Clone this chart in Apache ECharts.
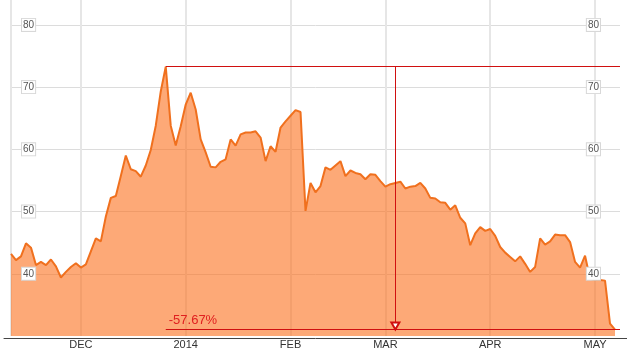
<!DOCTYPE html>
<html><head><meta charset="utf-8">
<script src="https://cdn.jsdelivr.net/npm/echarts@6/dist/echarts.min.js"></script>
<style>html,body{margin:0;padding:0;background:#fff}#c{width:627px;height:350px}</style>
</head><body><div id="c"></div>
<script>
// Trading days per month (category axis)
const novDays = [11,12,13,14,15,18,19,20,21,22,25,26,27,29];
const decDays = [2,3,4,5,6,9,10,11,12,13,16,17,18,19,20,23,24,26,27,30,31];
const janDays = [2,3,6,7,8,9,10,13,14,15,16,17,21,22,23,24,27,28,29,30,31];
const febDays = [3,4,5,6,7,10,11,12,13,14,18,19,20,21,24,25,26,27,28];
const marDays = [3,4,5,6,7,10,11,12,13,14,17,18,19,20,21,24,25,26,27,28,31];
const aprDays = [1,2,3,4,7,8,9,10,11,14,15,16,17,21,22,23,24,25,28,29,30];
const mayDays = [1,2,5,6,7];

// Closing values per month
const novValues = [43.2,42.2,42.8,44.9,44.2,41.4,41.9,41.4,42.3,41.2,39.4,40.3,41.1,41.7];
const decValues = [41.0,41.5,43.6,45.7,45.2,49.2,52.2,52.5,55.7,59.0,56.8,56.5,55.6,57.4,59.9,63.8,69.3,73.3,63.8,60.6,63.7];
const janValues = [67.2,69.1,66.4,61.6,59.5,57.2,57.1,58.0,58.4,61.6,60.6,62.4,62.7,62.7,62.9,61.9,58.1,60.5,59.6,63.5,64.5];
const febValues = [65.4,66.3,66.0,50.1,54.6,53.1,54.1,57.1,56.7,57.4,58.1,55.7,56.6,56.2,56.0,55.2,56.0,55.9,54.9];
const marValues = [54.0,54.4,54.6,54.8,53.7,54.0,54.1,54.6,53.7,52.2,52.1,51.5,51.4,50.3,51.0,49.0,48.1,44.6,46.5,47.5,46.9];
const aprValues = [47.2,46.1,44.3,43.4,42.7,42.0,42.8,41.6,40.3,41.1,45.7,44.7,45.2,46.3,46.2,46.2,45.1,41.9,41.0,42.9,39.2];
const mayValues = [39.0,39.0,38.9,32.0,31.03];

// Axis tick labels
const tickMonths = ['2013-12','2014-01','2014-02','2014-03','2014-04','2014-05'];
const tickLabels = ['DEC','2014','FEB','MAR','APR','MAY'];

const months = ['2013-11','2013-12','2014-01','2014-02','2014-03','2014-04','2014-05'];
const monthDays = [novDays,decDays,janDays,febDays,marDays,aprDays,mayDays];
const categories = [];
months.forEach((m,i)=>monthDays[i].forEach(d=>categories.push(m+'-'+String(d).padStart(2,'0'))));
categories.push(''); // one empty trailing slot to the right of the last point
const values = [].concat(novValues,decValues,janValues,febValues,marValues,aprValues,mayValues);

const X_END = categories.length - 1;
function isMonthStart(i){
  if (i === 0) return true;
  if (!categories[i] || !categories[i-1]) return false;
  return categories[i].slice(0,7) !== categories[i-1].slice(0,7);
}
const peakVal = Math.max.apply(null, values);
const peakIdx = values.indexOf(peakVal);
const lastIdx = values.length - 1;
const lastVal = values[lastIdx];
const pct = ((lastVal - peakVal) / peakVal * 100).toFixed(2) + '%';
const midIdx = Math.round((peakIdx + X_END) / 2);

const RED = '#D01010';
const FONT = '"Liberation Sans", Arial, sans-serif';
const labelBox = {
  inside: true, color: '#555', fontSize: 10, fontFamily: FONT,
  backgroundColor: '#fff', borderColor: '#d8d8d8', borderWidth: 1,
  padding: [1, 1, 0, 1], lineHeight: 11,
  showMinLabel: false, showMaxLabel: false
};

const chart = echarts.init(document.getElementById('c'), null, {renderer: 'canvas'});
chart.setOption({
  animation: false,
  grid: [
    {left: 11, right: 7, top: 0, bottom: 12},
    {left: 4, right: 0, top: 0, bottom: 12}
  ],
  xAxis: [{
    type: 'category', gridIndex: 0, data: categories, boundaryGap: false,
    axisLine: {show: false}, axisTick: {show: false},
    axisLabel: {
      interval: (i) => i > 0 && isMonthStart(i),
      formatter: (v) => { if (!v) return ''; const k = tickMonths.indexOf(v.slice(0,7)); return k >= 0 ? tickLabels[k] : ''; },
      color: '#333', fontSize: 11, fontFamily: FONT, margin: 3
    },
    splitLine: {show: true, interval: (i) => isMonthStart(i), lineStyle: {color: '#e6e6e6', width: 2}}
  }, {
    type: 'value', gridIndex: 1, min: 0, max: 1,
    axisLine: {show: true, lineStyle: {color: '#444', width: 1}},
    axisTick: {show: false}, axisLabel: {show: false}, splitLine: {show: false}
  }],
  yAxis: [{
    type: 'value', gridIndex: 0, position: 'left', min: 30, max: 84, interval: 10,
    axisLine: {show: false}, axisTick: {show: false}, axisLabel: {show: false},
    splitLine: {show: true, showMinLine: false, showMaxLine: false, lineStyle: {color: '#dcdcdc', width: 1}}
  }, {
    type: 'value', gridIndex: 0, position: 'left', min: 30, max: 84, interval: 10, z: 10,
    axisLine: {show: false}, axisTick: {show: false}, splitLine: {show: false},
    axisLabel: Object.assign({margin: 11}, labelBox)
  }, {
    type: 'value', gridIndex: 0, position: 'right', min: 30, max: 84, interval: 10, z: 10,
    axisLine: {show: false}, axisTick: {show: false}, splitLine: {show: false},
    axisLabel: Object.assign({margin: 20}, labelBox)
  }, {
    type: 'value', gridIndex: 1, show: false, min: 0, max: 1
  }],
  series: [{
    type: 'line', xAxisIndex: 0, yAxisIndex: 0, data: values,
    showSymbol: false, symbol: 'none',
    lineStyle: {color: '#F0701E', width: 2},
    itemStyle: {color: '#F0701E'},
    areaStyle: {color: 'rgba(251,112,28,0.6)', opacity: 1, origin: 'start'},
    markLine: {
      silent: true, animation: false,
      symbol: ['none', 'none'],
      lineStyle: {color: RED, width: 1, type: 'solid', opacity: 1},
      label: {show: false},
      data: [
        [{coord: [peakIdx, peakVal]}, {coord: [X_END, peakVal]}],
        [{coord: [peakIdx, lastVal],
          label: {show: true, formatter: pct, position: 'insideStartTop', color: '#E02020', fontSize: 13, fontFamily: FONT, distance: 3}},
         {coord: [X_END, lastVal]}],
        [{coord: [midIdx, peakVal]},
         {coord: [midIdx, lastVal], symbol: 'emptyTriangle', symbolSize: [8, 7], symbolOffset: [0, 3.5]}]
      ]
    }
  }]
});
</script>
</body></html>
